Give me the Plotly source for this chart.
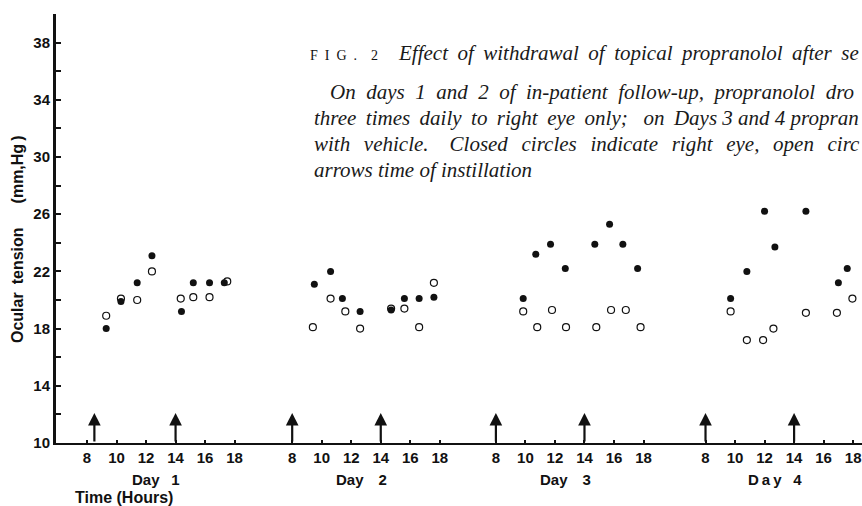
import plotly.graph_objects as go

# ---------------- data ----------------
DAYS = ["Day\u2002 1", "Day\u2002\u20022", "Day\u2002\u20023", "D\u2009a\u2009y\u2002\u00a04"]
HOUR_TICKS = [8, 10, 12, 14, 16, 18]
Y_TICK_VALUES = list(range(10, 41, 2))
Y_TICK_LABELS = [str(v) if (v - 10) % 4 == 0 and v <= 38 else "" for v in Y_TICK_VALUES]

# right eye (closed circles): hour of day, ocular tension (mmHg)
RIGHT_HOURS = [
    [9.3, 10.3, 11.4, 12.4, 14.4, 15.2, 16.3, 17.3],
    [9.5, 10.6, 11.4, 12.6, 14.7, 15.6, 16.6, 17.6],
    [9.85, 10.7, 11.7, 12.7, 14.7, 15.7, 16.6, 17.6],
    [9.7, 10.8, 12.0, 12.7, 14.8, 17.0, 17.6],
]
RIGHT_VALUES = [
    [18.0, 19.9, 21.2, 23.1, 19.2, 21.2, 21.2, 21.2],
    [21.1, 22.0, 20.1, 19.2, 19.3, 20.1, 20.1, 20.2],
    [20.1, 23.2, 23.9, 22.2, 23.9, 25.3, 23.9, 22.2],
    [20.1, 22.0, 26.2, 23.7, 26.2, 21.2, 22.2],
]
# left eye (open circles)
LEFT_HOURS = [
    [9.3, 10.3, 11.4, 12.4, 14.35, 15.2, 16.3, 17.5],
    [9.4, 10.6, 11.6, 12.6, 14.7, 15.6, 16.6, 17.6],
    [9.85, 10.8, 11.8, 12.75, 14.8, 15.8, 16.8, 17.8],
    [9.7, 10.8, 11.9, 12.6, 14.8, 16.9, 17.95],
]
LEFT_VALUES = [
    [18.9, 20.1, 20.0, 22.0, 20.1, 20.2, 20.2, 21.3],
    [18.1, 20.1, 19.2, 18.0, 19.4, 19.4, 18.1, 21.2],
    [19.2, 18.1, 19.3, 18.1, 18.1, 19.3, 19.3, 18.1],
    [19.2, 17.2, 17.2, 18.0, 19.1, 19.1, 20.1],
]
# time of instillation (hour of day)
INSTILL_HOURS = [[8.5, 14], [8, 14], [8, 14], [8, 14]]

T = "\u2009"  # thin space used for justification
CAPTION_TITLE = ("Effect of withdrawal of topical propranolol after se").replace(" ", " " + T)
CAPTION_LINES = [
    "On days 1 and 2 of in-patient follow-up, propranolol dro".replace(" ", "\u2002"),
    f"three{T} times{T} daily{T} to{T} right{T} eye{T} only;\u2002 on{T} Days 3 and 4 propran",
    f"with{T}{T} vehicle.\u2002\u2002Closed{T}{T} circles{T}{T} indicate{T}{T} right{T}{T} eye,{T}{T} open{T}{T} circ",
    "arrows time of instillation",
]

# ---------------- layout helpers ----------------
DAY_OFFSET = [0, 13.9, 27.7, 41.9]   # horizontal placement of each day's block
INK = "#111111"

def xpos(day_idx, hours):
    return [h + DAY_OFFSET[day_idx] for h in hours]

fig = go.Figure()

rx, ry, lx, ly = [], [], [], []
for d in range(4):
    rx += xpos(d, RIGHT_HOURS[d]); ry += RIGHT_VALUES[d]
    lx += xpos(d, LEFT_HOURS[d]); ly += LEFT_VALUES[d]

fig.add_trace(go.Scatter(x=lx, y=ly, mode="markers", name="Left eye",
                         marker=dict(symbol="circle-open", size=7, color=INK,
                                     line=dict(width=1.2, color=INK))))
fig.add_trace(go.Scatter(x=rx, y=ry, mode="markers", name="Right eye",
                         marker=dict(symbol="circle", size=7, color=INK)))

tickvals, ticktext = [], []
for d in range(4):
    for h in HOUR_TICKS:
        tickvals.append(h + DAY_OFFSET[d])
        ticktext.append(str(h))

annotations = []
# instillation arrows
for d in range(4):
    for h in INSTILL_HOURS[d]:
        xv = h + DAY_OFFSET[d]
        annotations.append(dict(x=xv, y=12.1, ax=xv, ay=10, xref="x", yref="y",
                                axref="x", ayref="y", text="", showarrow=True,
                                arrowhead=2, arrowsize=1.15, arrowwidth=2.2,
                                arrowcolor=INK, standoff=0, startstandoff=0))
# day labels
for d in range(4):
    annotations.append(dict(x=12.7 + DAY_OFFSET[d], y=-0.086, xref="x", yref="paper",
                            text=DAYS[d], showarrow=False, xanchor="center", yanchor="middle",
                            font=dict(family="Liberation Sans, Arial", size=15, color=INK,
                                      weight="bold")))
annotations.append(dict(x=10.5, y=-0.128, xref="x", yref="paper", text="Time (Hours)",
                        showarrow=False, xanchor="center", yanchor="middle",
                        font=dict(family="Liberation Sans, Arial", size=16, color=INK,
                                  weight="bold")))
# y-axis title
annotations.append(dict(x=-0.0484, y=0.4755, xref="paper", yref="paper",
                        text="Ocular\u2002tension\u2003\u2002(mm,Hg\u2009)", textangle=-90,
                        showarrow=False, xanchor="center", yanchor="middle",
                        font=dict(family="Liberation Sans, Arial", size=16, color=INK,
                                  weight="bold")))
# caption
serif = "Liberation Serif, Times New Roman, serif"
annotations.append(dict(x=0.3127, y=0.9033, xref="paper", yref="paper",
                        text="F\u2002I\u2002G\u2002.\u2002\u20022", showarrow=False,
                        xanchor="left", yanchor="middle",
                        font=dict(family=serif, size=14, color="#111111")))
annotations.append(dict(x=0.4218, y=0.910, xref="paper", yref="paper",
                        text=CAPTION_TITLE, showarrow=False, xanchor="left", yanchor="middle",
                        font=dict(family=serif, size=21, color="#1a1a1a", style="italic")))
cap_x = [0.3375, 0.3176, 0.3176, 0.3176]
cap_y = [0.8191, 0.7585, 0.6979, 0.6373]
for i, line in enumerate(CAPTION_LINES):
    annotations.append(dict(x=cap_x[i], y=cap_y[i], xref="paper", yref="paper",
                            text=line, showarrow=False, xanchor="left", yanchor="middle",
                            font=dict(family=serif, size=21, color="#1a1a1a", style="italic")))

fig.update_layout(
    width=862, height=506,
    margin=dict(l=56, r=0, t=14, b=63),
    paper_bgcolor="white", plot_bgcolor="white",
    showlegend=False,
    annotations=annotations,
    xaxis=dict(range=[5.9, 60.5], tickmode="array", tickvals=tickvals, ticktext=ticktext,
               showgrid=False, zeroline=False, showline=True, linecolor=INK, linewidth=2,
               ticks="inside", ticklen=3, tickwidth=1.5, tickcolor=INK,
               ticklabelstandoff=0,
               tickfont=dict(family="Liberation Sans, Arial", size=15, color=INK, weight="bold")),
    yaxis=dict(range=[10, 40], tickmode="array", tickvals=Y_TICK_VALUES, ticktext=Y_TICK_LABELS,
               showgrid=False, zeroline=False, showline=True, linecolor=INK, linewidth=3,
               ticks="inside", ticklen=5, tickwidth=1.5, tickcolor=INK,
               ticklabelstandoff=0,
               tickfont=dict(family="Liberation Sans, Arial", size=15, color=INK, weight="bold")),
)

fig.write_html("out.html", config={"displayModeBar": False},
               post_script="document.body.style.margin='0';document.body.style.overflow='hidden';")
